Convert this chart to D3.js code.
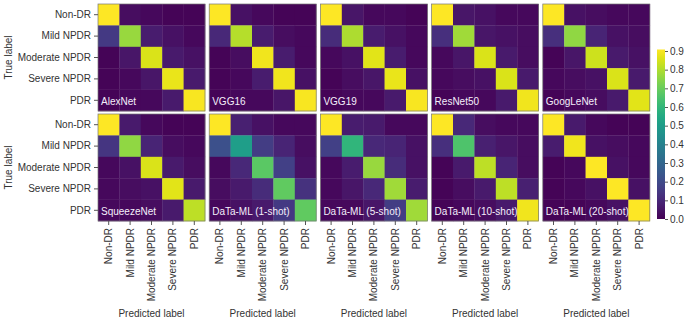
<!DOCTYPE html>
<html>
<head>
<meta charset="utf-8">
<script src="https://cdn.jsdelivr.net/npm/d3@7"></script>
<style>
  body { margin: 0; background: #fff; }
  text { font-family: "Liberation Sans", Arial, sans-serif; }
</style>
</head>
<body>
<div id="chart"></div>
<script>
var classes = ['Non-DR', 'Mild NPDR', 'Moderate NPDR', 'Severe NPDR', 'PDR']
var models = ['AlexNet', 'VGG16', 'VGG19', 'ResNet50', 'GoogLeNet',
  'SqueezeNet', 'DaTa-ML (1-shot)', 'DaTa-ML (5-shot)', 'DaTa-ML (10-shot)', 'DaTa-ML (20-shot)']
var colorbar_ticks = [0, 0.1, 0.2, 0.3, 0.4, 0.5, 0.6, 0.7, 0.8, 0.9]

// confusion matrices, rows = true label, cols = predicted label
var alexnet = [
  [0.93, 0.03, 0.02, 0.01, 0.01],
  [0.15, 0.76, 0.07, 0.04, 0.02],
  [0.01, 0.05, 0.85, 0.06, 0.04],
  [0.01, 0.02, 0.05, 0.87, 0.06],
  [0.01, 0.02, 0.02, 0.06, 0.89]
]
var vgg16 = [
  [0.93, 0.04, 0.02, 0.01, 0.01],
  [0.10, 0.80, 0.07, 0.03, 0.02],
  [0.01, 0.03, 0.88, 0.07, 0.02],
  [0.01, 0.02, 0.07, 0.88, 0.04],
  [0.01, 0.02, 0.02, 0.05, 0.89]
]
var vgg19 = [
  [0.93, 0.05, 0.02, 0.02, 0.01],
  [0.11, 0.79, 0.07, 0.04, 0.02],
  [0.02, 0.04, 0.86, 0.07, 0.02],
  [0.01, 0.03, 0.05, 0.87, 0.04],
  [0.01, 0.02, 0.02, 0.06, 0.89]
]
var resnet50 = [
  [0.92, 0.05, 0.04, 0.02, 0.02],
  [0.12, 0.77, 0.05, 0.04, 0.03],
  [0.02, 0.05, 0.85, 0.06, 0.03],
  [0.02, 0.03, 0.04, 0.85, 0.06],
  [0.01, 0.02, 0.02, 0.06, 0.88]
]
var googlenet = [
  [0.92, 0.04, 0.03, 0.02, 0.02],
  [0.12, 0.75, 0.09, 0.04, 0.03],
  [0.01, 0.05, 0.83, 0.06, 0.04],
  [0.02, 0.03, 0.04, 0.85, 0.06],
  [0.01, 0.02, 0.03, 0.06, 0.86]
]
var squeezenet = [
  [0.93, 0.06, 0.02, 0.01, 0.01],
  [0.14, 0.75, 0.09, 0.03, 0.02],
  [0.02, 0.04, 0.85, 0.06, 0.03],
  [0.02, 0.03, 0.04, 0.86, 0.06],
  [0.02, 0.02, 0.03, 0.06, 0.81]
]
var datam_1 = [
  [0.90, 0.08, 0.04, 0.02, 0.02],
  [0.22, 0.50, 0.16, 0.09, 0.03],
  [0.02, 0.10, 0.67, 0.17, 0.04],
  [0.03, 0.06, 0.11, 0.68, 0.13],
  [0.02, 0.04, 0.06, 0.15, 0.68]
]
var datam_5 = [
  [0.90, 0.07, 0.06, 0.02, 0.02],
  [0.17, 0.59, 0.10, 0.09, 0.04],
  [0.02, 0.07, 0.76, 0.11, 0.04],
  [0.02, 0.05, 0.10, 0.77, 0.07],
  [0.02, 0.02, 0.05, 0.16, 0.77]
]
var datam_10 = [
  [0.91, 0.10, 0.03, 0.02, 0.02],
  [0.12, 0.65, 0.08, 0.05, 0.03],
  [0.01, 0.06, 0.81, 0.09, 0.03],
  [0.01, 0.03, 0.06, 0.81, 0.08],
  [0.01, 0.02, 0.03, 0.06, 0.88]
]
var datam_20 = [
  [0.92, 0.06, 0.02, 0.01, 0.01],
  [0.07, 0.88, 0.04, 0.03, 0.02],
  [0.01, 0.02, 0.92, 0.04, 0.02],
  [0.01, 0.02, 0.04, 0.90, 0.04],
  [0.01, 0.01, 0.02, 0.04, 0.92]
]
var matrices = [alexnet, vgg16, vgg19, resnet50, googlenet,
  squeezenet, datam_1, datam_5, datam_10, datam_20]

var w = 687
var h = 321
var panel_size = 107
var panel_left = 98
var panel_step = 111.2
var row_top = [4, 114]
var font_size = '10px'

var svg = d3.select('#chart').append('svg')
  .attr('width', w)
  .attr('height', h)

var color = d3.scaleSequential(d3.interpolateViridis).domain([0, 0.9]).clamp(true)
var band = d3.scaleBand().domain(classes).range([0, panel_size])

models.forEach(function (name, idx) {
  var col = idx % 5
  var row = Math.floor(idx / 5)
  var px = panel_left + col * panel_step
  var py = row_top[row]
  var g = svg.append('g').attr('transform', 'translate(' + px + ',' + py + ')')

  matrices[idx].forEach(function (vals, i) {
    g.selectAll(null)
      .data(vals)
      .enter().append('rect')
      .attr('x', function (d, j) { return band(classes[j]) })
      .attr('y', band(classes[i]))
      .attr('width', band.bandwidth() + 0.3)
      .attr('height', band.bandwidth() + 0.3)
      .attr('fill', function (d) { return color(d) })
  })

  g.append('rect')
    .attr('width', panel_size)
    .attr('height', panel_size)
    .attr('fill', 'none')
    .attr('stroke', '#777')
    .attr('stroke-width', 0.7)

  g.append('text').text(name)
    .attr('x', 3)
    .attr('y', panel_size - 6)
    .attr('fill', '#f4eefa')
    .style('font-size', font_size)

  // y axis on first column
  if (col === 0) {
    var ya = g.append('g').call(d3.axisLeft(band).tickSize(4).tickPadding(3))
    ya.select('.domain').remove()
    ya.selectAll('line').attr('stroke', '#555')
    ya.selectAll('text').attr('fill', '#333').style('font-size', font_size)
    svg.append('text').text('True label')
      .attr('transform', 'translate(12,' + (py + panel_size / 2) + ') rotate(-90)')
      .attr('text-anchor', 'middle')
      .attr('fill', '#333')
      .style('font-size', font_size)
  }

  // x axis on bottom row
  if (row === 1) {
    var xa = g.append('g')
      .attr('transform', 'translate(0,' + panel_size + ')')
      .call(d3.axisBottom(band).tickSize(4).tickPadding(3))
    xa.select('.domain').remove()
    xa.selectAll('line').attr('stroke', '#555')
    xa.selectAll('text')
      .attr('fill', '#333')
      .style('font-size', font_size)
      .attr('text-anchor', 'end')
      .attr('dy', '0.35em')
      .attr('x', -7)
      .attr('y', 0)
      .attr('transform', 'rotate(-90)')
    svg.append('text').text('Predicted label')
      .attr('x', px + panel_size / 2)
      .attr('y', 317)
      .attr('text-anchor', 'middle')
      .attr('fill', '#333')
      .style('font-size', font_size)
  }
})

// colorbar
var cb_x = 657
var cb_w = 8
var cb_scale = d3.scaleLinear().domain([0, 0.9]).range([219, 51])
var defs = svg.append('defs')
var grad = defs.append('linearGradient')
  .attr('id', 'cbgrad')
  .attr('x1', 0).attr('y1', 1).attr('x2', 0).attr('y2', 0)
d3.range(0, 1.0001, 0.05).forEach(function (t) {
  grad.append('stop')
    .attr('offset', (t * 100) + '%')
    .attr('stop-color', color(t * 0.9))
})
svg.append('rect')
  .attr('x', cb_x)
  .attr('y', cb_scale(0.9) - 1.5)
  .attr('width', cb_w)
  .attr('height', cb_scale(0) - cb_scale(0.9) + 1.5)
  .attr('fill', 'url(#cbgrad)')

var cb_axis = svg.append('g')
  .attr('transform', 'translate(' + (cb_x + cb_w) + ',0)')
  .call(d3.axisRight(cb_scale).tickValues(colorbar_ticks).tickFormat(d3.format('.1f')).tickSize(3).tickPadding(2))
cb_axis.select('.domain').remove()
cb_axis.selectAll('line').attr('stroke', '#555')
cb_axis.selectAll('text').attr('fill', '#333').style('font-size', font_size)
</script>
</body>
</html>
